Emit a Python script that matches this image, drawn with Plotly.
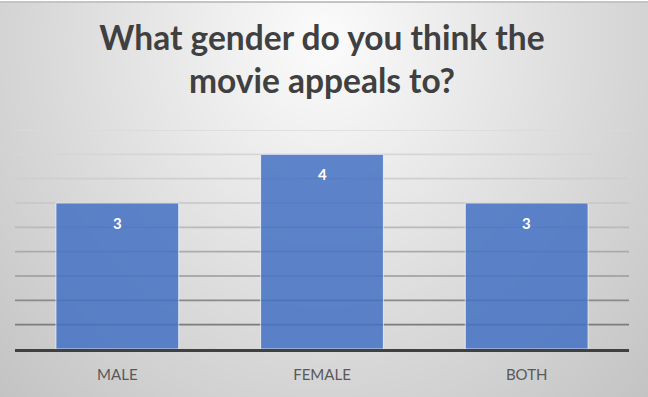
import base64, struct, zlib
import numpy as np
import plotly.graph_objects as go

categories = ["MALE", "FEMALE", "BOTH"]
values = [3, 4, 3]
grid_values = [0.5, 1.0, 1.5, 2.0, 2.5, 3.0, 3.5, 4.0, 4.5]
grid_colors = ["#7c7c7c", "#8a8a8a", "#9a9a9a", "#ababab", "#bababa",
               "#c6c6c6", "#cfcfcf", "#d6d6d6", "#dadada"]
title_text = "What gender do you think the<br>movie appeals to?"

W, H = 648, 397
ML, MR, MT, MB = 15, 19, 130, 48


def png_uri(arr):
    h, w, _ = arr.shape
    raw = b"".join(b"\x00" + arr[i].tobytes() for i in range(h))
    def chunk(t, d):
        c = struct.pack(">I", len(d)) + t + d
        return c + struct.pack(">I", zlib.crc32(t + d) & 0xffffffff)
    png = b"\x89PNG\r\n\x1a\n" + chunk(b"IHDR", struct.pack(">IIBBBBB", w, h, 8, 2, 0, 0, 0)) \
        + chunk(b"IDAT", zlib.compress(raw, 9)) + chunk(b"IEND", b"")
    return "data:image/png;base64," + base64.b64encode(png).decode()


yy, xx = np.mgrid[0:H, 0:W].astype(float)
d = np.sqrt(((xx - 324) / 324) ** 2 + ((yy - 40) / 357) ** 2)
g = np.clip(252 - 40 * d, 0, 255).astype(np.uint8)
bg = np.stack([g, g, g], axis=-1)
bg[0, :, :] = 255
bg[1:3, :, :] = 196
bg = np.ascontiguousarray(bg)

pw = W - ML - MR
ph = H - MT - MB

fig = go.Figure()
fig.add_trace(go.Bar(
    x=categories, y=values,
    marker=dict(color="#4472C4", opacity=0.85,
                line=dict(color="rgba(255,255,255,0.75)", width=1)),
    width=0.6, hoverinfo="skip",
))

for v, c in zip(grid_values, grid_colors):
    fig.add_shape(type="line", xref="paper", yref="y", x0=0, x1=1, y0=v, y1=v,
                  line=dict(color=c, width=1.6), layer="below")

for cat, v in zip(categories, values):
    fig.add_annotation(x=cat, y=v, text=f"<b>{v}</b>", showarrow=False,
                       yshift=-20, yanchor="middle",
                       font=dict(family="Lato", size=15, color="white"))

fig.add_layout_image(dict(
    source=png_uri(bg), xref="paper", yref="paper",
    x=-ML / pw, y=1 + MT / ph, sizex=W / pw, sizey=H / ph,
    xanchor="left", yanchor="top", sizing="stretch", layer="below",
))

fig.update_layout(
    width=W, height=H,
    margin=dict(l=ML, r=MR, t=MT, b=MB),
    paper_bgcolor="#d8d8d8", plot_bgcolor="rgba(0,0,0,0)",
    showlegend=False,
    title=dict(text=f"<b>{title_text}</b>", x=0.5, xanchor="center",
               xref="paper", yref="container", y=0.875, yanchor="top",
               font=dict(family="Lato", size=33.5, color="#404040")),
    xaxis=dict(showgrid=False, showline=True, linecolor="#404040", linewidth=2.5,
               ticks="", tickfont=dict(family="Lato", size=15, color="#595959"),
               ticklabelstandoff=10, fixedrange=True),
    yaxis=dict(range=[0, 4.5], showgrid=False, zeroline=False, showticklabels=False,
               fixedrange=True),
)

fig.write_html("out.html", config={"displayModeBar": False},
               post_script="document.body.style.margin='0';document.body.style.overflow='hidden';")
